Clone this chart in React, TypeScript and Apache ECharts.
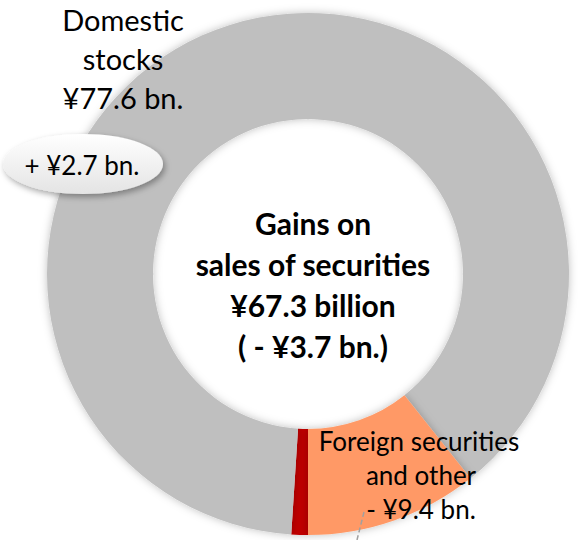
import React, { useEffect, useRef } from "react";
import * as echarts from "echarts";

const categories = ["Bonds", "Domestic stocks", "Foreign securities and other"];
const values = [0.9, 77.6, 9.4];
const colors = ["#C00000", "#BFBFBF", "#FF9966"];

const domesticLines = ["Domestic", "stocks", "¥77.6 bn."];
const domesticChange = "+ ¥2.7 bn.";
const centerLines = ["Gains on", "sales of securities", "¥67.3 billion", "( - ¥3.7 bn.)"];
const foreignLines = ["Foreign securities", "and other", "- ¥9.4 bn."];

const FONT = "Lato, 'Open Sans', sans-serif";

export default function App() {
  const ref = useRef<HTMLDivElement>(null);
  useEffect(() => {
    if (!ref.current) return;
    const chart = echarts.init(ref.current, null, { renderer: "svg" });
    const graphic: any[] = [];
    domesticLines.forEach((t, i) => {
      graphic.push({
        type: "text",
        z: 10,
        style: { text: t, x: 123, y: 19 + i * 39, align: "center", verticalAlign: "middle", fontSize: 29, fontFamily: FONT, fill: "#000" },
      });
    });
    graphic.push({
      type: "ellipse",
      z: 9,
      shape: { cx: 83, cy: 164, rx: 80, ry: 30 },
      style: {
        fill: new echarts.graphic.LinearGradient(0, 0, 0, 1, [
          { offset: 0, color: "#FFFFFF" },
          { offset: 1, color: "#E4E4E4" },
        ]),
        shadowBlur: 6,
        shadowOffsetX: 2,
        shadowOffsetY: 3,
        shadowColor: "rgba(0,0,0,0.35)",
      },
    });
    graphic.push({
      type: "text",
      z: 10,
      style: { text: domesticChange, x: 82, y: 165, align: "center", verticalAlign: "middle", fontSize: 26, fontFamily: FONT, fill: "#000" },
    });
    centerLines.forEach((t, i) => {
      graphic.push({
        type: "text",
        z: 10,
        style: { text: t, x: 313, y: 223 + i * 41, align: "center", verticalAlign: "middle", fontSize: 30, fontWeight: "bold", fontFamily: FONT, fill: "#000" },
      });
    });
    foreignLines.forEach((t, i) => {
      graphic.push({
        type: "text",
        z: 10,
        style: { text: t, x: i === 0 ? 419 : 421, y: 441 + i * 34, align: "center", verticalAlign: "middle", fontSize: 26, fontFamily: FONT, fill: "#000" },
      });
    });
    graphic.push({
      type: "line",
      z: 8,
      shape: { x1: 364, y1: 512, x2: 357, y2: 540 },
      style: { stroke: "#A0A0A0", lineWidth: 1.5, lineDash: [5, 3] },
    });

    chart.setOption({
      animation: false,
      series: [
        {
          type: "pie",
          center: [308, 274],
          radius: [155, 261],
          startAngle: -90,
          clockwise: true,
          silent: true,
          label: { show: false },
          labelLine: { show: false },
          itemStyle: { borderWidth: 0, shadowBlur: 8, shadowColor: "rgba(0,0,0,0.25)" },
          data: categories.map((c, i) => ({ name: c, value: values[i], itemStyle: { color: colors[i] } })),
        },
      ],
      graphic,
    });
    return () => chart.dispose();
  }, []);
  return <div ref={ref} style={{ position: "fixed", left: 0, top: 0, width: 578, height: 540, background: "#fff" }} />;
}
